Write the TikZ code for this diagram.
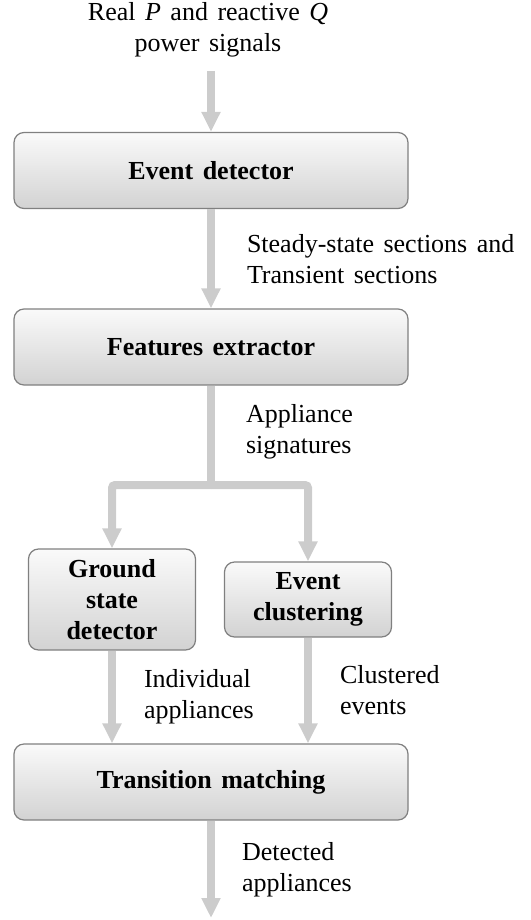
\documentclass[tikz,border=0pt]{standalone}
\usepackage{fontspec}
\setmainfont{Liberation Serif}
\usetikzlibrary{shapes.geometric, arrows.meta}
\definecolor{flowgray}{HTML}{CCCCCC}
\definecolor{boxline}{HTML}{808080}
\newcommand{\bigtext}{\fontsize{26}{31}\selectfont\spaceskip=9.5pt\relax}
\tikzstyle{block} = [rectangle, rounded corners=10pt, minimum width=394pt, minimum height=76pt, text centered, draw=boxline, line width=1.2pt, top color=gray!4, bottom color=gray!35, font=\bigtext\bfseries]
\tikzstyle{small_block} = [block, minimum width=167pt, minimum height=75pt, align=center]
\tikzstyle{arrow} = [line width=8pt, draw=flowgray, -{Triangle[width=18pt,length=20pt]}]
\tikzstyle{flow_line} = [line width=8pt, draw=flowgray]
\tikzstyle{side_text} = [right, inner sep=0pt, align=left, font=\bigtext]

\begin{document}
\begin{tikzpicture}[x=1pt, y=1pt, font=\bigtext]
		\useasboundingbox (0,0) rectangle (530,-920);
		\node (in) [align=center] at (208,-30) {Real \textit{P} and reactive \textit{Q}\\power signals};
		\node (ed) [block, below of=in, node distance=140.5pt, xshift=3pt] {Event detector};
		\node (fe) [block, below of=ed, node distance=176.5pt] {Features extractor};
		\node (gsd) [small_block, below of=fe, node distance=252.5pt, xshift=-99pt, minimum height=101pt] {Ground\\state\\detector};
		\node (ec) [small_block, below of=fe, node distance=252.5pt, xshift=97pt] {Event\\clustering};
		\node (tm) [block, below of=fe, node distance=435pt] {Transition matching};
		\coordinate [below of=fe, node distance=138pt] (split);
		\coordinate [below of=tm, node distance=136pt] (out);

		\draw [arrow, shorten <=10pt] (in.south -| ed.north) -- (ed.north);
		\draw [arrow] (ed) -- node [side_text, xshift=32pt] {Steady-state sections and\\Transient sections} (fe);
		\draw [flow_line] (fe.south) -- node [side_text, xshift=31pt, yshift=4pt] {Appliance\\signatures} (split);
		\draw [arrow, rounded corners=3pt] (split) -| (gsd.north);
		\draw [arrow, rounded corners=3pt] (split) -| (ec.north);
		\draw [arrow] (gsd.south) -- node [side_text, xshift=28pt] {Individual\\appliances} (gsd.south |- tm.north);
		\draw [arrow] (ec.south) -- node [side_text, xshift=28pt] {Clustered\\events} (ec.south |- tm.north);
		\draw [arrow] (tm.south) -- node [side_text, xshift=27pt] {Detected\\appliances} (out);

\end{tikzpicture}
\end{document}
